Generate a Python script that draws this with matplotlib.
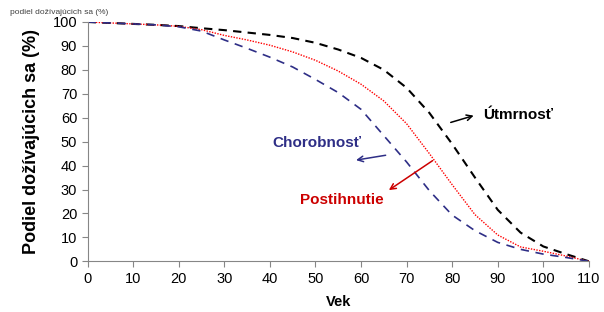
import matplotlib
matplotlib.use("Agg")
import matplotlib.pyplot as plt

plt.rcParams["font.family"] = ["Liberation Sans", "DejaVu Sans"]

# survival curves, % surviving by age
age = [0, 5, 10, 15, 20, 25, 30, 35, 40, 45, 50, 55, 60, 65, 70, 75, 80, 85, 90, 95, 100, 105, 110]
mortality = [100, 99.6, 99.2, 98.8, 98.3, 97.4, 96.6, 95.6, 94.6, 93.3, 91.3, 88.5, 85.0, 80.0,
             72.5, 62.0, 49.0, 35.0, 21.5, 12.0, 6.2, 3.0, 0]
disability = [100, 99.6, 99.2, 98.8, 98.2, 96.8, 94.4, 92.5, 90.3, 87.5, 84.0, 79.5, 74.0, 67.0,
              57.5, 45.0, 32.0, 19.5, 11.0, 6.0, 4.2, 2.2, 0]
morbidity = [100, 99.6, 99.2, 98.8, 98.0, 96.2, 92.5, 89.0, 85.3, 81.2, 76.0, 70.5, 63.5, 52.5,
             41.5, 29.5, 19.3, 12.8, 7.9, 5.0, 3.0, 1.6, 0]
xticks = list(range(0, 111, 10))
yticks = list(range(0, 101, 10))

BLUE, RED, DRED = "#2e2e86", "#ff0000", "#cc0000"

fig = plt.figure(figsize=(6.04, 3.12), dpi=100)
ax = fig.add_axes([0.145, 0.1625, 0.83, 0.767])
ax.plot(age, mortality, color="black", lw=1.5, ls=(0, (4, 3)))
ax.plot(age, disability, color=RED, lw=1.0, ls=(0, (1, 1)))
ax.plot(age, morbidity, color=BLUE, lw=1.2, ls=(0, (5, 4)))

ax.set_xlim(0, 110); ax.set_ylim(0, 100)
ax.set_xticks(xticks); ax.set_yticks(yticks)
for s in ["top", "right"]:
    ax.spines[s].set_visible(False)
for s in ["left", "bottom"]:
    ax.spines[s].set_color("#868686")
ax.tick_params(colors="#868686", labelcolor="black", labelsize=10.5, length=4)
ax.set_xlabel("Vek", fontsize=10.5, fontweight="bold")
ax.xaxis.set_label_coords(0.5, -0.14)
ax.set_ylabel("Podiel dožívajúcich sa (%)", fontsize=13, fontweight="bold")
ax.yaxis.set_label_coords(-0.095, 0.5)

fig.text(10/604, 1 - 13/312, "podiel dožívajúcich sa (%)", fontsize=6, color="#404040", va="center")

ax.annotate("", xy=(85.3, 61.2), xytext=(79.1, 57.7),
            arrowprops=dict(arrowstyle="->", color="black", lw=1.1))
ax.text(86.8, 61.2, "Útmrnosť", fontsize=11, fontweight="bold", va="center")
ax.annotate("", xy=(58.3, 42.1), xytext=(66.0, 44.5),
            arrowprops=dict(arrowstyle="->", color=BLUE, lw=1.1))
ax.text(40.5, 49.5, "Chorobnosť", fontsize=11, fontweight="bold", va="center", color=BLUE)
ax.annotate("", xy=(65.6, 29.1), xytext=(76.2, 42.7),
            arrowprops=dict(arrowstyle="->", color=DRED, lw=1.1))
ax.text(46.6, 25.6, "Postihnutie", fontsize=11, fontweight="bold", va="center", color=DRED)

fig.savefig("out.png", dpi=100)
